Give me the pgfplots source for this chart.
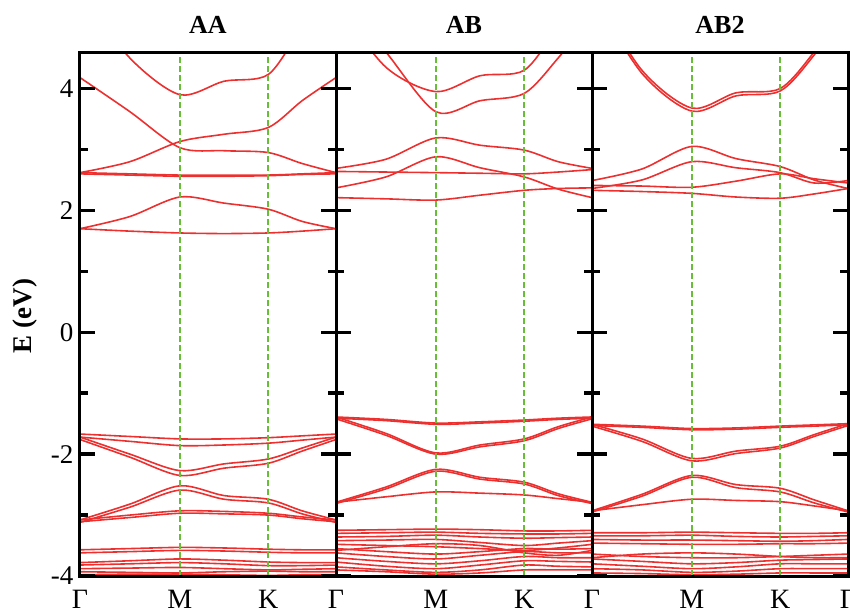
\documentclass[border=0pt]{standalone}
\usepackage{pgfplots}
\pgfplotsset{compat=1.18}
\usepackage{fontspec}
\setmainfont{Liberation Serif}
\definecolor{bandred}{RGB}{236,48,48}
\definecolor{kgreen}{RGB}{105,190,55}
\pgfplotscreateplotcyclelist{bandlist}{bandred,solid,line width=1.6pt,smooth,mark=none\\}
\pgfplotsset{
  bandaxis/.style={
    scale only axis, width=256pt, height=524pt,
    xmin=0, xmax=1, ymin=-4, ymax=4.6,
    axis on top=true, clip=true,
    axis line style={line width=3pt},
    ytick={-4,-2,0,2,4}, minor ytick={-3,-1,1,3},
    tick align=inside, ytick pos=both, yticklabel pos=left,
    major tick length=15pt, minor tick length=8pt,
    tick style={black, line width=3.5pt},
    xtick={0,0.39,0.735,1},
    xtick style={draw=none},
    xticklabel style={font=\fontsize{28}{28}\selectfont, yshift=-11pt},
    yticklabel style={font=\fontsize{27}{27}\selectfont, xshift=-3pt},
    title style={font=\bfseries\fontsize{26}{26}\selectfont, at={(axis description cs:0.5,1)}, anchor=base, yshift=13pt},
    cycle list name=bandlist,
  },
  kline/.style={sharp plot, color=kgreen, line width=1.4pt, dash pattern=on 6pt off 3pt, mark=none},
}
\begin{document}
\begin{tikzpicture}
% ---------------- AA ----------------
\begin{axis}[bandaxis, at={(0pt,0pt)}, anchor=south west, title={AA},
  yticklabels={-4,-2,0,2,4}, xticklabels={Γ,M,K,{}},
  ylabel={E (eV)}, ylabel style={font=\bfseries\fontsize{27}{27}\selectfont, at={(axis description cs:0,0.496)}, anchor=center, yshift=55pt}]
\addplot coordinates {(0,5.6)(0.195,4.5)(0.39,3.9)(0.5625,4.12)(0.735,4.23)(0.8675,5.0)(1,5.6)};
\addplot coordinates {(0,4.18)(0.195,3.62)(0.39,3.03)(0.5625,2.98)(0.735,2.95)(0.8675,2.77)(1,2.62)};
\addplot coordinates {(0,2.62)(0.195,2.8)(0.39,3.13)(0.5625,3.25)(0.735,3.36)(0.8675,3.8)(1,4.18)};
\addplot coordinates {(0,2.62)(0.195,2.6)(0.39,2.58)(0.5625,2.58)(0.735,2.58)(0.8675,2.6)(1,2.62)};
\addplot coordinates {(0,2.6)(0.195,2.58)(0.39,2.56)(0.5625,2.56)(0.735,2.57)(0.8675,2.59)(1,2.6)};
\addplot coordinates {(0,1.70)(0.195,1.9)(0.39,2.22)(0.5625,2.12)(0.735,2.02)(0.8675,1.82)(1,1.70)};
\addplot coordinates {(0,1.70)(0.195,1.66)(0.39,1.63)(0.5625,1.62)(0.735,1.63)(0.8675,1.66)(1,1.70)};
\addplot coordinates {(0,-1.67)(0.195,-1.71)(0.39,-1.75)(0.5625,-1.75)(0.735,-1.73)(0.8675,-1.70)(1,-1.67)};
\addplot coordinates {(0,-1.72)(0.195,-1.79)(0.39,-1.86)(0.5625,-1.85)(0.735,-1.82)(0.8675,-1.77)(1,-1.72)};
\addplot coordinates {(0,-1.72)(0.195,-2.0)(0.39,-2.27)(0.5625,-2.16)(0.735,-2.08)(0.8675,-1.9)(1,-1.72)};
\addplot coordinates {(0,-1.76)(0.195,-2.05)(0.39,-2.35)(0.5625,-2.23)(0.735,-2.15)(0.8675,-1.95)(1,-1.76)};
\addplot coordinates {(0,-3.08)(0.195,-2.82)(0.39,-2.52)(0.5625,-2.68)(0.735,-2.74)(0.8675,-2.93)(1,-3.08)};
\addplot coordinates {(0,-3.12)(0.195,-2.87)(0.39,-2.59)(0.5625,-2.74)(0.735,-2.80)(0.8675,-2.98)(1,-3.12)};
\addplot coordinates {(0,-3.08)(0.195,-3.0)(0.39,-2.93)(0.5625,-2.94)(0.735,-2.97)(0.8675,-3.03)(1,-3.08)};
\addplot coordinates {(0,-3.11)(0.195,-3.04)(0.39,-2.97)(0.5625,-2.98)(0.735,-3.0)(0.8675,-3.06)(1,-3.11)};
\addplot coordinates {(0,-3.57)(0.195,-3.55)(0.39,-3.53)(0.5625,-3.54)(0.735,-3.56)(0.8675,-3.57)(1,-3.57)};
\addplot coordinates {(0,-3.62)(0.195,-3.6)(0.39,-3.58)(0.5625,-3.59)(0.735,-3.61)(0.8675,-3.62)(1,-3.62)};
\addplot coordinates {(0,-3.78)(0.195,-3.75)(0.39,-3.72)(0.5625,-3.74)(0.735,-3.77)(0.8675,-3.78)(1,-3.78)};
\addplot coordinates {(0,-3.82)(0.195,-3.8)(0.39,-3.78)(0.5625,-3.8)(0.735,-3.83)(0.8675,-3.83)(1,-3.82)};
\addplot coordinates {(0,-3.88)(0.195,-3.87)(0.39,-3.86)(0.5625,-3.88)(0.735,-3.9)(0.8675,-3.89)(1,-3.88)};
\addplot coordinates {(0,-3.93)(0.195,-3.94)(0.39,-3.95)(0.5625,-3.93)(0.735,-3.92)(0.8675,-3.93)(1,-3.93)};
\addplot coordinates {(0,-3.98)(0.195,-3.97)(0.39,-3.97)(0.5625,-3.98)(0.735,-3.99)(0.8675,-3.98)(1,-3.98)};
\addplot[kline] coordinates {(0.39,-4)(0.39,4.6)};
\addplot[kline] coordinates {(0.735,-4)(0.735,4.6)};
\end{axis}
% ---------------- AB ----------------
\begin{axis}[bandaxis, at={(256pt,0pt)}, anchor=south west, title={AB},
  yticklabels={}, xticklabels={Γ,M,K,{}}]
\addplot coordinates {(0,5.4)(0.195,4.35)(0.39,3.95)(0.5625,4.21)(0.735,4.3)(0.8675,5.0)(1,5.6)};
\addplot coordinates {(0,5.6)(0.195,4.6)(0.39,3.62)(0.5625,3.8)(0.735,3.92)(0.8675,4.5)(1,5.2)};
\addplot coordinates {(0,2.69)(0.195,2.84)(0.39,3.19)(0.5625,3.07)(0.735,2.99)(0.8675,2.8)(1,2.69)};
\addplot coordinates {(0,2.37)(0.195,2.55)(0.39,2.88)(0.5625,2.7)(0.735,2.55)(0.8675,2.35)(1,2.21)};
\addplot coordinates {(0,2.64)(0.195,2.63)(0.39,2.62)(0.5625,2.61)(0.735,2.6)(0.8675,2.63)(1,2.67)};
\addplot coordinates {(0,2.21)(0.195,2.19)(0.39,2.17)(0.5625,2.25)(0.735,2.33)(0.8675,2.36)(1,2.37)};
\addplot coordinates {(0,-1.39)(0.195,-1.43)(0.39,-1.49)(0.5625,-1.47)(0.735,-1.44)(0.8675,-1.41)(1,-1.39)};
\addplot coordinates {(0,-1.41)(0.195,-1.45)(0.39,-1.51)(0.5625,-1.49)(0.735,-1.46)(0.8675,-1.43)(1,-1.41)};
\addplot coordinates {(0,-1.39)(0.195,-1.66)(0.39,-1.98)(0.5625,-1.85)(0.735,-1.75)(0.8675,-1.55)(1,-1.39)};
\addplot coordinates {(0,-1.42)(0.195,-1.69)(0.39,-2.0)(0.5625,-1.88)(0.735,-1.78)(0.8675,-1.58)(1,-1.42)};
\addplot coordinates {(0,-2.79)(0.195,-2.54)(0.39,-2.25)(0.5625,-2.38)(0.735,-2.46)(0.8675,-2.65)(1,-2.79)};
\addplot coordinates {(0,-2.81)(0.195,-2.57)(0.39,-2.28)(0.5625,-2.41)(0.735,-2.49)(0.8675,-2.68)(1,-2.81)};
\addplot coordinates {(0,-2.79)(0.195,-2.7)(0.39,-2.62)(0.5625,-2.64)(0.735,-2.67)(0.8675,-2.73)(1,-2.79)};
\addplot coordinates {(0,-3.25)(0.195,-3.24)(0.39,-3.23)(0.5625,-3.24)(0.735,-3.26)(0.8675,-3.26)(1,-3.25)};
\addplot coordinates {(0,-3.3)(0.195,-3.29)(0.39,-3.28)(0.5625,-3.3)(0.735,-3.31)(0.8675,-3.31)(1,-3.3)};
\addplot coordinates {(0,-3.36)(0.195,-3.35)(0.39,-3.33)(0.5625,-3.36)(0.735,-3.38)(0.8675,-3.37)(1,-3.36)};
\addplot coordinates {(0,-3.42)(0.195,-3.41)(0.39,-3.4)(0.5625,-3.45)(0.735,-3.5)(0.8675,-3.46)(1,-3.42)};
\addplot coordinates {(0,-3.48)(0.195,-3.5)(0.39,-3.52)(0.5625,-3.55)(0.735,-3.58)(0.8675,-3.54)(1,-3.48)};
\addplot coordinates {(0,-3.55)(0.195,-3.6)(0.39,-3.64)(0.5625,-3.6)(0.735,-3.55)(0.8675,-3.56)(1,-3.55)};
\addplot coordinates {(0,-3.58)(0.195,-3.52)(0.39,-3.47)(0.5625,-3.5)(0.735,-3.62)(0.8675,-3.66)(1,-3.58)};
\addplot coordinates {(0,-3.62)(0.195,-3.68)(0.39,-3.72)(0.5625,-3.66)(0.735,-3.6)(0.8675,-3.62)(1,-3.62)};
\addplot coordinates {(0,-3.7)(0.195,-3.76)(0.39,-3.8)(0.5625,-3.75)(0.735,-3.68)(0.8675,-3.7)(1,-3.7)};
\addplot coordinates {(0,-3.77)(0.195,-3.84)(0.39,-3.88)(0.5625,-3.82)(0.735,-3.75)(0.8675,-3.76)(1,-3.77)};
\addplot coordinates {(0,-3.85)(0.195,-3.9)(0.39,-3.94)(0.5625,-3.9)(0.735,-3.82)(0.8675,-3.84)(1,-3.85)};
\addplot coordinates {(0,-3.9)(0.195,-3.93)(0.39,-3.97)(0.5625,-3.95)(0.735,-3.9)(0.8675,-3.9)(1,-3.9)};
\addplot[kline] coordinates {(0.39,-4)(0.39,4.6)};
\addplot[kline] coordinates {(0.735,-4)(0.735,4.6)};
\end{axis}
% ---------------- AB2 ----------------
\begin{axis}[bandaxis, at={(512pt,0pt)}, anchor=south west, title={AB2},
  yticklabels={}, xticklabels={Γ,M,K,Γ}]
\addplot coordinates {(0,5.6)(0.195,4.3)(0.39,3.68)(0.5625,3.93)(0.735,4.0)(0.8675,4.6)(1,5.4)};
\addplot coordinates {(0,5.55)(0.195,4.25)(0.39,3.63)(0.5625,3.88)(0.735,3.96)(0.8675,4.55)(1,5.35)};
\addplot coordinates {(0,2.49)(0.195,2.68)(0.39,3.05)(0.5625,2.85)(0.735,2.72)(0.8675,2.5)(1,2.36)};
\addplot coordinates {(0,2.36)(0.195,2.5)(0.39,2.8)(0.5625,2.7)(0.735,2.62)(0.8675,2.45)(1,2.49)};
\addplot coordinates {(0,2.41)(0.195,2.4)(0.39,2.38)(0.5625,2.48)(0.735,2.6)(0.8675,2.52)(1,2.45)};
\addplot coordinates {(0,2.33)(0.195,2.31)(0.39,2.28)(0.5625,2.22)(0.735,2.2)(0.8675,2.27)(1,2.36)};
\addplot coordinates {(0,-1.51)(0.195,-1.54)(0.39,-1.58)(0.5625,-1.57)(0.735,-1.54)(0.8675,-1.52)(1,-1.5)};
\addplot coordinates {(0,-1.53)(0.195,-1.56)(0.39,-1.6)(0.5625,-1.59)(0.735,-1.56)(0.8675,-1.54)(1,-1.52)};
\addplot coordinates {(0,-1.51)(0.195,-1.75)(0.39,-2.07)(0.5625,-1.95)(0.735,-1.87)(0.8675,-1.68)(1,-1.5)};
\addplot coordinates {(0,-1.54)(0.195,-1.79)(0.39,-2.11)(0.5625,-1.99)(0.735,-1.9)(0.8675,-1.71)(1,-1.53)};
\addplot coordinates {(0,-2.93)(0.195,-2.66)(0.39,-2.35)(0.5625,-2.5)(0.735,-2.56)(0.8675,-2.75)(1,-2.93)};
\addplot coordinates {(0,-2.95)(0.195,-2.69)(0.39,-2.38)(0.5625,-2.55)(0.735,-2.62)(0.8675,-2.8)(1,-2.95)};
\addplot coordinates {(0,-2.93)(0.195,-2.83)(0.39,-2.74)(0.5625,-2.76)(0.735,-2.78)(0.8675,-2.85)(1,-2.93)};
\addplot coordinates {(0,-3.29)(0.195,-3.29)(0.39,-3.28)(0.5625,-3.29)(0.735,-3.3)(0.8675,-3.3)(1,-3.29)};
\addplot coordinates {(0,-3.34)(0.195,-3.34)(0.39,-3.33)(0.5625,-3.35)(0.735,-3.36)(0.8675,-3.35)(1,-3.34)};
\addplot coordinates {(0,-3.4)(0.195,-3.41)(0.39,-3.41)(0.5625,-3.42)(0.735,-3.43)(0.8675,-3.42)(1,-3.4)};
\addplot coordinates {(0,-3.46)(0.195,-3.47)(0.39,-3.48)(0.5625,-3.48)(0.735,-3.47)(0.8675,-3.47)(1,-3.46)};
\addplot coordinates {(0,-3.64)(0.195,-3.68)(0.39,-3.7)(0.5625,-3.7)(0.735,-3.68)(0.8675,-3.66)(1,-3.64)};
\addplot coordinates {(0,-3.7)(0.195,-3.64)(0.39,-3.62)(0.5625,-3.64)(0.735,-3.68)(0.8675,-3.7)(1,-3.7)};
\addplot coordinates {(0,-3.72)(0.195,-3.76)(0.39,-3.8)(0.5625,-3.78)(0.735,-3.74)(0.8675,-3.73)(1,-3.72)};
\addplot coordinates {(0,-3.8)(0.195,-3.84)(0.39,-3.88)(0.5625,-3.85)(0.735,-3.8)(0.8675,-3.8)(1,-3.8)};
\addplot coordinates {(0,-3.88)(0.195,-3.9)(0.39,-3.94)(0.5625,-3.92)(0.735,-3.88)(0.8675,-3.88)(1,-3.88)};
\addplot coordinates {(0,-3.95)(0.195,-3.96)(0.39,-3.98)(0.5625,-3.97)(0.735,-3.95)(0.8675,-3.95)(1,-3.95)};
\addplot[kline] coordinates {(0.39,-4)(0.39,4.6)};
\addplot[kline] coordinates {(0.735,-4)(0.735,4.6)};
\end{axis}
\pgfresetboundingbox
\path[use as bounding box] (-80pt,-38pt) rectangle (770pt,576pt);
\end{tikzpicture}
\end{document}
